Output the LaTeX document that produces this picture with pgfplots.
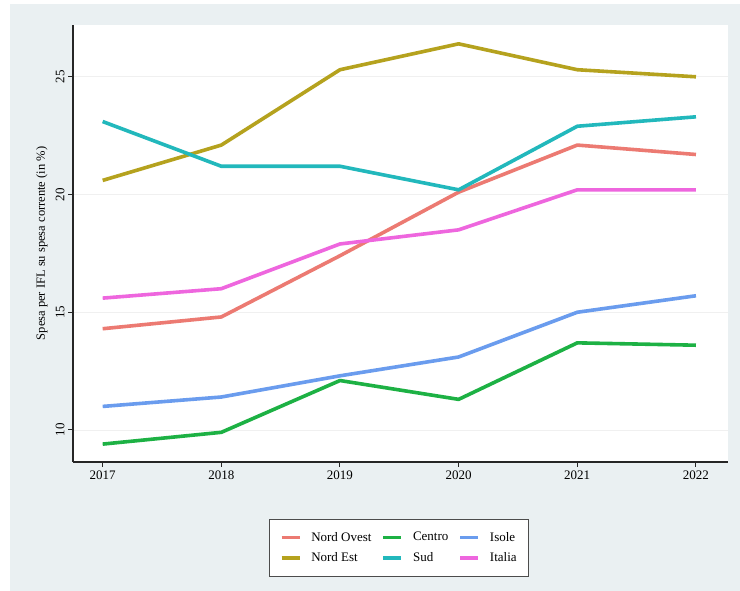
\documentclass[border=0pt]{standalone}
\usepackage{pgfplots}
\pgfplotsset{compat=1.18}
\usepackage{fontspec}
\setmainfont{Liberation Serif}
\definecolor{bgc}{HTML}{EAF0F2}
\definecolor{cNO}{HTML}{EC7A72}
\definecolor{cNE}{HTML}{B5A21E}
\definecolor{cCE}{HTML}{1DB144}
\definecolor{cSU}{HTML}{22B8BC}
\definecolor{cIS}{HTML}{6A9CEE}
\definecolor{cIT}{HTML}{EE66DE}
\begin{document}
\begin{tikzpicture}
\path[use as bounding box, fill=white] (0pt,0pt) rectangle (740pt,591pt);
\fill[bgc] (10pt,0pt) rectangle (740pt,587pt);
\begin{axis}[
  at={(73pt,129pt)}, anchor=south west,
  scale only axis, width=655pt, height=437pt,
  xmin=2016.75, xmax=2022.27, ymin=8.64, ymax=27.2,
  axis background/.style={fill=white},
  axis x line*=bottom, axis y line*=left,
  axis line style={line width=1.2pt, black!85},
  xtick={2017,...,2022}, ytick={10,15,20,25},
  xticklabel style={/pgf/number format/1000 sep={}, font=\fontsize{13}{15}\selectfont},
  yticklabel style={rotate=90, anchor=south, font=\fontsize{13}{15}\selectfont},
  /pgf/number format/assume math mode=true,
  tick style={black!85, line width=1pt},
  tick align=outside, major tick length=5pt,
  ymajorgrids, grid style={line width=0.8pt, color=black!6},
  ylabel={Spesa per IFL su spesa corrente (in \%)},
  ylabel style={font=\fontsize{12.5}{14}\selectfont, at={(rel axis cs:0,0.5)}, anchor=south, yshift=22pt},
  legend columns=3,
  legend style={at={(0.498,-0.196)}, anchor=center, draw=black!70, line width=0.8pt,
    font=\fontsize{13}{15}\selectfont, inner xsep=10pt, inner ysep=11pt,
    column sep=8pt, row sep=6pt},
  legend cell align=left,
  legend image code/.code={\draw[#1, line width=3.5pt] (0pt,0pt) -- (18pt,0pt);},
  every axis plot/.append style={line width=3.6pt, line join=round},
]
\addplot[cNO] coordinates {(2017,14.3) (2018,14.8) (2019,17.4) (2020,20.1) (2021,22.1) (2022,21.7)};
\addlegendentry{Nord Ovest}
\addplot[cCE] coordinates {(2017,9.4) (2018,9.9) (2019,12.1) (2020,11.3) (2021,13.7) (2022,13.6)};
\addlegendentry{Centro}
\addplot[cIS] coordinates {(2017,11.0) (2018,11.4) (2019,12.3) (2020,13.1) (2021,15.0) (2022,15.7)};
\addlegendentry{Isole}
\addplot[cNE] coordinates {(2017,20.6) (2018,22.1) (2019,25.3) (2020,26.4) (2021,25.3) (2022,25.0)};
\addlegendentry{Nord Est}
\addplot[cSU] coordinates {(2017,23.1) (2018,21.2) (2019,21.2) (2020,20.2) (2021,22.9) (2022,23.3)};
\addlegendentry{Sud}
\addplot[cIT] coordinates {(2017,15.6) (2018,16.0) (2019,17.9) (2020,18.5) (2021,20.2) (2022,20.2)};
\addlegendentry{Italia}
\end{axis}
\end{tikzpicture}
\end{document}
